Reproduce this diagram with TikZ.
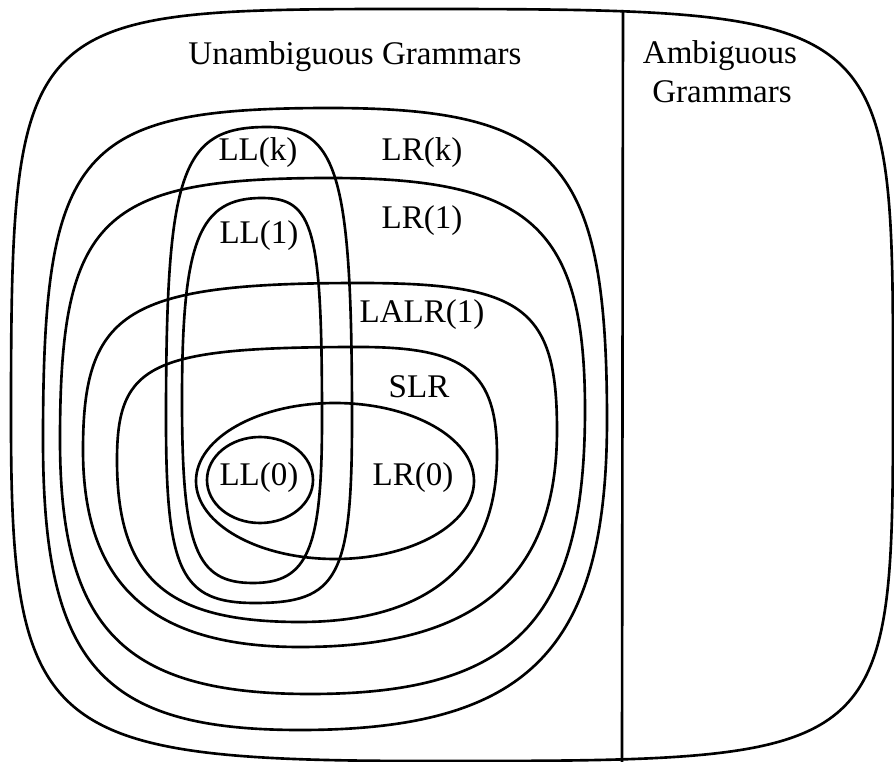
\documentclass[tikz,border=0pt]{standalone}
\usepackage{fontspec}
\setmainfont{Liberation Serif}

\begin{document}
\begin{tikzpicture}[line width=0.75pt,
        setname/.style={anchor=base, inner sep=0pt, font=\fontsize{9.4}{11}\selectfont}]
        \useasboundingbox (0, 0) rectangle (8.94, -7.62);

        % all grammars
        \draw (4.00, -0.09) .. controls (8.93, -0.09) and (8.93, -0.09) .. (8.93, -3.90)
            .. controls (8.93, -7.61) and (8.93, -7.61) .. (4.30, -7.61)
            .. controls (0.45, -7.61) and (0.11, -7.35) .. (0.11, -4.20)
            .. controls (0.11, -0.17) and (0.19, -0.09) .. cycle;
        \coordinate (divtop) at (6.23, -0.10);
        \coordinate (divbot) at (6.22, -7.62);
        \draw (divtop) -- (divbot);

        % LR family
        \draw (3.30, -1.08) .. controls (5.59, -1.08) and (6.07, -1.62) .. (6.07, -4.20)
            .. controls (6.07, -6.50) and (5.28, -7.30) .. (3.00, -7.30)
            .. controls (1.01, -7.30) and (0.43, -6.64) .. (0.43, -4.40)
            .. controls (0.43, -1.49) and (0.78, -1.08) .. cycle;
        \draw (3.30, -1.78) .. controls (5.31, -1.78) and (5.85, -2.27) .. (5.85, -4.10)
            .. controls (5.85, -6.21) and (5.14, -6.94) .. (3.10, -6.94)
            .. controls (1.24, -6.94) and (0.60, -6.29) .. (0.60, -4.40)
            .. controls (0.60, -2.17) and (1.01, -1.78) .. cycle;
        \draw (3.60, -2.83) .. controls (5.23, -2.83) and (5.57, -3.08) .. (5.57, -4.30)
            .. controls (5.57, -5.78) and (4.76, -6.47) .. (3.00, -6.47)
            .. controls (1.52, -6.47) and (0.83, -5.85) .. (0.83, -4.50)
            .. controls (0.83, -3.10) and (1.27, -2.83) .. cycle;
        \draw (3.60, -3.47) .. controls (4.66, -3.47) and (4.97, -3.72) .. (4.97, -4.55)
            .. controls (4.97, -5.64) and (4.28, -6.22) .. (3.00, -6.22)
            .. controls (1.66, -6.22) and (1.17, -5.78) .. (1.17, -4.60)
            .. controls (1.17, -3.63) and (1.51, -3.47) .. cycle;
        \draw (3.35, -4.81) ellipse [x radius=1.39, y radius=0.78];

        % LL family
        \draw (2.67, -1.27) .. controls (3.38, -1.27) and (3.52, -1.74) .. (3.52, -4.20)
            .. controls (3.52, -5.77) and (3.38, -6.03) .. (2.55, -6.03)
            .. controls (1.81, -6.03) and (1.66, -5.72) .. (1.66, -4.20)
            .. controls (1.66, -1.71) and (1.81, -1.27) .. cycle;
        \draw (2.62, -1.98) .. controls (3.14, -1.98) and (3.22, -2.29) .. (3.22, -4.20)
            .. controls (3.22, -5.49) and (3.08, -5.83) .. (2.53, -5.83)
            .. controls (1.96, -5.83) and (1.82, -5.48) .. (1.82, -4.00)
            .. controls (1.82, -2.40) and (1.99, -1.98) .. cycle;
        \draw (2.60, -4.80) ellipse [x radius=0.53, y radius=0.43];

        \node[setname] (unamb) at (3.55, -0.65) {Unambiguous Grammars};
        \node[setname] (ambone) at (7.20, -0.63) {Ambiguous};
        \node[setname] (ambtwo) at (7.22, -1.02) {Grammars};
        \node[setname] (llk) at (2.58, -1.60) {LL(k)};
        \node[setname] (lrk) at (4.22, -1.61) {LR(k)};
        \node[setname] (llone) at (2.59, -2.43) {LL(1)};
        \node[setname] (lrone) at (4.22, -2.28) {LR(1)};
        \node[setname] (lalr) at (4.22, -3.23) {LALR(1)};
        \node[setname] (slr) at (4.19, -3.97) {SLR};
        \node[setname] (llzero) at (2.59, -4.85) {LL(0)};
        \node[setname] (lrzero) at (4.13, -4.85) {LR(0)};
    \end{tikzpicture}
\end{document}
